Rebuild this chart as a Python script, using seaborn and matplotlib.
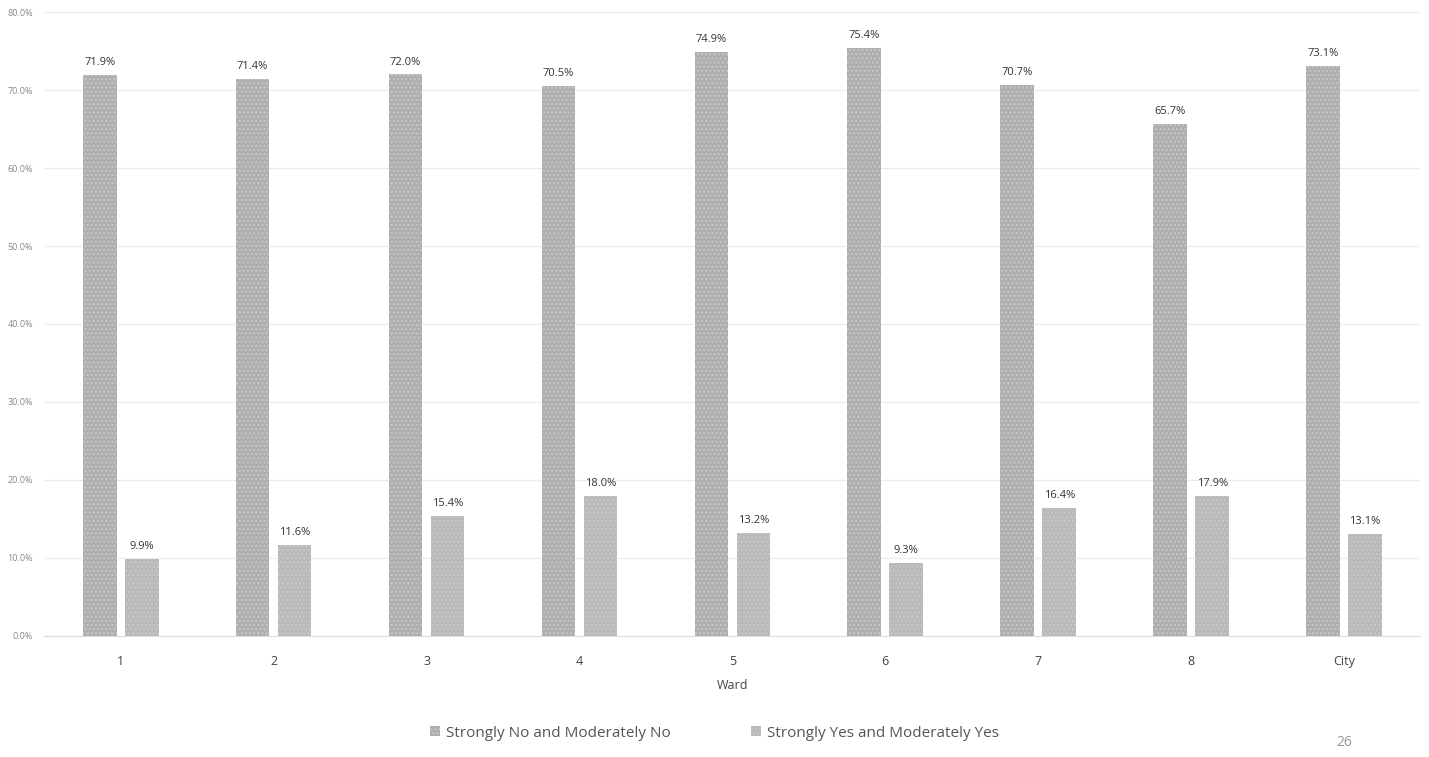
import pandas as pd
import numpy as np
import seaborn as sns
import matplotlib.pyplot as plt

wards = ["1", "2", "3", "4", "5", "6", "7", "8", "City"]
no_vals = [71.9, 71.4, 72.0, 70.5, 74.9, 75.4, 70.7, 65.7, 73.1]
yes_vals = [9.9, 11.6, 15.4, 18.0, 13.2, 9.3, 16.4, 17.9, 13.1]
series = ["Strongly No and Moderately No", "Strongly Yes and Moderately Yes"]
colors = ["#aeaeae", "#b9b9b9"]

df = pd.DataFrame({
    "Ward": wards * 2,
    "value": no_vals + yes_vals,
    "series": [series[0]] * len(wards) + [series[1]] * len(wards),
})

sns.set_style("white")
plt.rcParams["font.family"] = ["Open Sans", "DejaVu Sans"]

fig = plt.figure(figsize=(14.29, 7.57), dpi=100)
ax = fig.add_axes([0.031, 0.160, 0.963, 0.824])

sns.barplot(data=df, x="Ward", y="value", hue="series", order=wards,
            hue_order=series, palette=colors, width=0.55, gap=0.2,
            saturation=1, ax=ax, legend=True)

# stippled look of the scanned bars
for patch in ax.patches:
    patch.set_hatch("....")
    patch.set_edgecolor("#c8c8c8")
    patch.set_linewidth(0)

for cont in ax.containers:
    ax.bar_label(cont, labels=[f"{v:.1f}%" for v in cont.datavalues],
                 padding=5, fontsize=8, color="#333333")

ax.set_ylim(0, 80)
ax.set_yticks(np.arange(0, 81, 10))
ax.set_yticklabels([f"{t:.1f}%" for t in np.arange(0, 81, 10)],
                   fontsize=6.5, color="#888888")
ax.tick_params(axis="y", length=0, pad=8)
ax.tick_params(axis="x", length=0, pad=14, labelsize=9, labelcolor="#444444")
ax.grid(axis="y", color="#ececec", linewidth=0.8)
ax.set_axisbelow(True)
for s in ["top", "right", "left"]:
    ax.spines[s].set_visible(False)
ax.spines["bottom"].set_color("#dddddd")
ax.set_xlim(-0.5, len(wards) - 0.5)
ax.set_xlabel("Ward", fontsize=9, color="#444444", labelpad=8)
ax.set_ylabel("")

leg = ax.legend(loc="upper center", bbox_to_anchor=(0.487, -0.122), ncol=2,
                frameon=False, fontsize=11, handlelength=0.6, handleheight=0.6,
                columnspacing=5.3, handletextpad=0.4, labelcolor="#555555")

fig.text(0.935, 0.015, "26", fontsize=10, color="#999999")

fig.savefig("out.png", dpi=100)
